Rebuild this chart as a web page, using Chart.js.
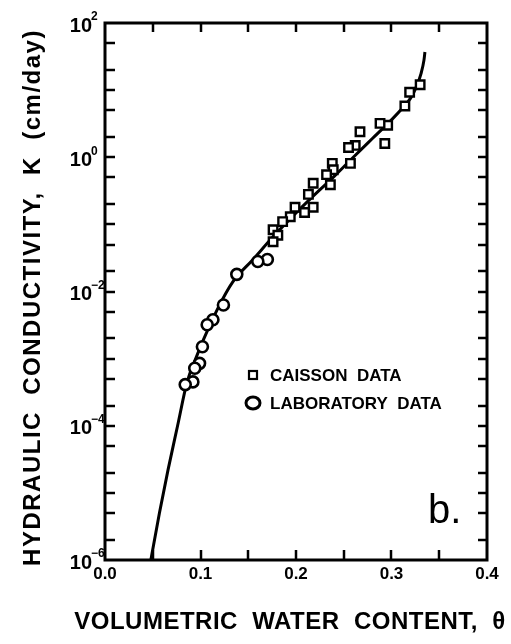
<!DOCTYPE html>
<html>
<head>
<meta charset="utf-8">
<script src="https://cdn.jsdelivr.net/npm/chart.js@4.4.0/dist/chart.umd.min.js"></script>
<style>
  html, body { margin: 0; padding: 0; background: #fff; }
  canvas { display: block; }
</style>
</head>
<body>
<canvas id="chart" width="511" height="644"></canvas>
<script>
'use strict';

// ── Data ───────────────────────────────────────────────────────
const curveTheta = [0.048, 0.057, 0.066, 0.076, 0.086, 0.095, 0.103, 0.117, 0.134, 0.155,
                    0.175, 0.195, 0.215, 0.240, 0.260, 0.280, 0.300, 0.312, 0.320, 0.326,
                    0.331, 0.334, 0.335];
const curveK     = [1.0e-6, 5.0e-6, 2.2e-5, 1.0e-4, 4.5e-4, 1.0e-3, 1.9e-3, 5.2e-3, 1.4e-2, 3.0e-2,
                    6.3e-2, 0.126, 0.24, 0.52, 1.0, 1.9, 3.6, 5.5, 7.6, 11.2,
                    17.8, 28, 37];

const caissonTheta = [0.330, 0.319, 0.314, 0.296, 0.288, 0.293, 0.267, 0.262, 0.255, 0.257,
                      0.238, 0.239, 0.232, 0.236, 0.218, 0.213, 0.218, 0.209, 0.199, 0.194,
                      0.186, 0.176, 0.181, 0.176];
const caissonK     = [12, 9.3, 5.8, 3.0, 3.2, 1.6, 2.4, 1.5, 1.4, 0.81,
                      0.81, 0.65, 0.55, 0.39, 0.41, 0.28, 0.18, 0.15, 0.18, 0.13,
                      0.11, 0.083, 0.069, 0.055];

const labTheta = [0.170, 0.160, 0.138, 0.124, 0.113, 0.107, 0.102, 0.099, 0.094, 0.092, 0.084];
const labK     = [0.030, 0.028, 0.018, 0.0063, 0.0038, 0.0032, 0.0015, 0.00085, 0.00072, 0.00045, 0.00041];

const xTickValues = [0, 0.1, 0.2, 0.3, 0.4];
const xTickLabels = ['0.0', '0.1', '0.2', '0.3', '0.4'];
const xMinorTicks = [0.05, 0.1, 0.15, 0.2, 0.25, 0.3, 0.35];
const yTickValues = [1e2, 1e0, 1e-2, 1e-4, 1e-6];
const yTickExps   = ['2', '0', '\u22122', '\u22124', '\u22126'];

const X_TITLE = 'VOLUMETRIC  WATER  CONTENT,  \u03B8';
const Y_TITLE = 'HYDRAULIC  CONDUCTIVITY,  K  (cm/day)';
const FONT = "'Liberation Sans', Arial, sans-serif";

// minor ticks on the log axis: 1, 2, 5 per decade
const yMinorTicks = [];
for (let d = -6; d <= 2; d++) {
  [1, 2, 5].forEach(m => { const v = m * Math.pow(10, d); if (v <= 100.0001) yMinorTicks.push(v); });
}

// ── Frame, inward ticks, labels, legend ────────────────────────
const framePlugin = {
  id: 'frame',
  afterDatasetsDraw(chart) {
    const { ctx, chartArea: a, scales: { x, y } } = chart;
    ctx.save();
    ctx.strokeStyle = '#000';
    ctx.fillStyle = '#000';
    ctx.lineCap = 'butt';

    ctx.lineWidth = 3;
    ctx.strokeRect(a.left, a.top, a.right - a.left, a.bottom - a.top);

    ctx.lineWidth = 2.5;
    ctx.beginPath();
    xMinorTicks.forEach(v => {
      const px = Math.round(x.getPixelForValue(v));
      ctx.moveTo(px, a.top); ctx.lineTo(px, a.top + 9);
      ctx.moveTo(px, a.bottom); ctx.lineTo(px, a.bottom - 10);
    });
    yMinorTicks.forEach(v => {
      const py = Math.round(y.getPixelForValue(v));
      if (py <= a.top + 1 || py >= a.bottom - 1) return;
      ctx.moveTo(a.left, py); ctx.lineTo(a.left + 10, py);
      ctx.moveTo(a.right, py); ctx.lineTo(a.right - 9, py);
    });
    ctx.stroke();

    // x tick labels
    ctx.font = `bold 17px ${FONT}`;
    ctx.textAlign = 'center';
    ctx.textBaseline = 'middle';
    xTickValues.forEach((v, i) => ctx.fillText(xTickLabels[i], x.getPixelForValue(v), a.bottom + 14));

    // y tick labels 10^n
    yTickValues.forEach((v, i) => {
      const py = y.getPixelForValue(v);
      ctx.font = `bold 20px ${FONT}`;
      ctx.textAlign = 'right';
      ctx.textBaseline = 'middle';
      ctx.fillText('10', a.left - 13, py + 3);
      ctx.font = `bold 12px ${FONT}`;
      ctx.textAlign = 'left';
      ctx.fillText(yTickExps[i], a.left - 14, py - 6);
    });

    // axis titles
    ctx.font = `bold 24px ${FONT}`;
    ctx.textAlign = 'center';
    ctx.textBaseline = 'middle';
    ctx.letterSpacing = '0.5px';
    ctx.fillText(X_TITLE, (a.left + a.right) / 2 - 6, 622);
    ctx.save();
    ctx.letterSpacing = '1.5px';
    ctx.translate(33, (a.top + a.bottom) / 2 + 6);
    ctx.rotate(-Math.PI / 2);
    ctx.fillText(Y_TITLE, 0, 0);
    ctx.restore();
    ctx.letterSpacing = '0px';

    // legend
    ctx.lineWidth = 2.2;
    ctx.strokeRect(249, 371, 8, 8);
    ctx.beginPath();
    ctx.ellipse(253, 403, 7, 6, 0, 0, Math.PI * 2);
    ctx.lineWidth = 3;
    ctx.stroke();
    ctx.font = `bold 17px ${FONT}`;
    ctx.textAlign = 'left';
    ctx.fillText('CAISSON  DATA', 270, 376);
    ctx.fillText('LABORATORY  DATA', 270, 404);

    // panel letter
    ctx.font = `40px ${FONT}`;
    ctx.textBaseline = 'alphabetic';
    ctx.fillText('b.', 428, 523);
    ctx.restore();
  }
};

new Chart(document.getElementById('chart'), {
  type: 'scatter',
  data: {
    datasets: [
      {
        label: 'Fit',
        type: 'line',
        data: curveTheta.map((t, i) => ({ x: t, y: curveK[i] })),
        borderColor: '#000',
        borderWidth: 3,
        pointRadius: 0,
        fill: false,
        cubicInterpolationMode: 'monotone',
        order: 2,
      },
      {
        label: 'CAISSON DATA',
        data: caissonTheta.map((t, i) => ({ x: t, y: caissonK[i] })),
        pointStyle: 'rect',
        radius: 6,
        borderWidth: 2.4,
        borderColor: '#000',
        backgroundColor: '#fff',
        order: 1,
      },
      {
        label: 'LABORATORY DATA',
        data: labTheta.map((t, i) => ({ x: t, y: labK[i] })),
        pointStyle: 'circle',
        radius: 5.5,
        borderWidth: 2.6,
        borderColor: '#000',
        backgroundColor: '#fff',
        order: 1,
      },
    ],
  },
  options: {
    responsive: false,
    animation: false,
    layout: { padding: { left: 105, right: 24, top: 23, bottom: 84 } },
    scales: {
      x: { type: 'linear', min: 0, max: 0.4, display: false },
      y: { type: 'logarithmic', min: 1e-6, max: 1e2, display: false },
    },
    plugins: {
      legend: { display: false },
      tooltip: { enabled: false },
    },
  },
  plugins: [framePlugin],
});
</script>
</body>
</html>
